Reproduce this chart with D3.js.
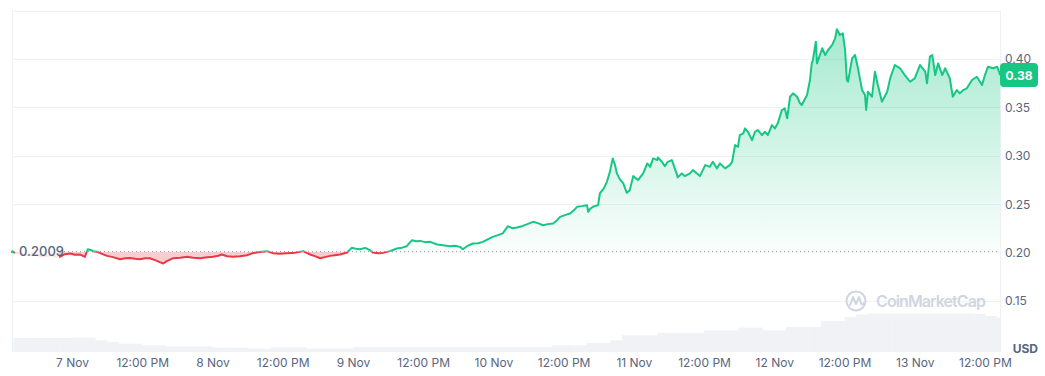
<!DOCTYPE html>
<html lang="en">
<head>
<meta charset="utf-8">
<title>Price chart</title>
<script src="https://cdn.jsdelivr.net/npm/d3@7"></script>
<style>
  body { margin: 0; background: #fff; }
  svg text { font-family: Inter, "Noto Sans", sans-serif; }
  .axis text { font-size: 12px; fill: #58667e; }
  .axis path, .axis line { display: none; }
</style>
</head>
<body>
<script>
// size of the page and the plot box
var w = 1045, h = 376;
var plotLeft = 12, plotRight = 1000, plotTop = 10.6, plotBottom = 352;

// price, hours counted from 7 Nov 00:00
var hours = [-10.3,-9.2,-7.9,-6.5,-5.1,-3.8,-2.1,-1.2,-0.3,0.5,
  1.4,2.2,2.7,3.3,3.6,4.3,4.8,6.0,7.0,8.2,
  9.1,9.9,10.8,11.6,12.5,13.3,14.2,15.0,15.6,16.2,
  17.3,18.5,19.7,20.7,21.9,23.1,24.1,25.0,25.6,26.5,
  27.5,28.7,29.9,30.9,32.1,33.3,34.3,35.5,36.7,38.1,
  39.5,40.2,40.7,41.5,42.4,43.2,44.1,44.9,45.8,47.0,
  47.8,48.5,49.2,50.1,50.9,51.4,52.3,53.1,54.3,55.5,
  56.4,57.2,58.1,58.8,59.5,60.3,61.2,62.4,63.4,64.6,
  65.4,66.3,66.8,67.5,68.5,69.4,70.2,71.1,71.9,72.8,
  73.6,74.5,75.2,76.0,76.9,77.7,78.8,79.6,80.5,81.3,
  82.2,82.9,83.4,84.2,85.1,85.8,86.3,87.1,88.0,88.2,
  88.5,89.0,89.9,90.2,90.9,91.4,91.9,92.4,92.8,93.1,
  93.6,94.2,94.8,95.3,95.9,96.7,97.6,98.3,98.8,99.3,
  100.0,100.1,100.8,101.3,101.8,102.5,102.7,103.4,103.5,104.2,
  104.7,105.6,106.1,106.8,107.3,108.2,109.0,109.5,110.2,110.7,
  111.6,112.4,112.8,113.3,113.8,114.1,114.7,115.0,115.5,116.2,
  116.7,117.2,117.9,118.4,118.9,119.6,120.1,120.6,121.3,121.8,
  122.2,122.7,123.2,123.9,124.4,124.7,125.6,126.1,126.4,126.6,
  127.1,127.3,128.2,128.7,129.2,129.9,130.4,130.7,131.2,131.7,
  132.1,132.4,132.6,133.3,133.8,134.3,135.0,135.5,135.7,136.0,
  136.7,137.2,137.7,138.4,139.3,139.8,140.6,141.5,142.3,143.2,
  144.0,144.9,145.8,146.1,146.6,147.0,147.5,148.0,148.7,149.2,
  150.0,150.5,151.2,151.7,152.3,152.9,153.8,154.6,155.5,156.0,
  156.5,157.4,158.1,158.6];

var prices = [0.2009,0.1994,0.1973,0.1984,0.1963,0.1973,0.1956,0.1984,0.1991,0.1978,
  0.1980,0.1956,0.2035,0.2025,0.2015,0.2009,0.1994,0.1966,0.1953,0.1932,
  0.1942,0.1945,0.1937,0.1932,0.1942,0.1942,0.1922,0.1901,0.1887,0.1911,
  0.1942,0.1947,0.1956,0.1947,0.1942,0.1953,0.1956,0.1968,0.1980,0.1963,
  0.1956,0.1963,0.1973,0.1994,0.2007,0.2015,0.1994,0.1989,0.1994,0.1999,
  0.2015,0.1994,0.1980,0.1963,0.1942,0.1953,0.1966,0.1973,0.1980,0.2001,
  0.2049,0.2040,0.2035,0.2049,0.2025,0.2001,0.1994,0.1997,0.2015,0.2042,
  0.2051,0.2066,0.2128,0.2118,0.2121,0.2108,0.2111,0.2084,0.2077,0.2066,
  0.2071,0.2059,0.2035,0.2066,0.2094,0.2097,0.2111,0.2139,0.2162,0.2180,
  0.2198,0.2273,0.2252,0.2260,0.2273,0.2291,0.2318,0.2304,0.2283,0.2294,
  0.2301,0.2335,0.2369,0.2387,0.2404,0.2439,0.2473,0.2480,0.2490,0.2421,
  0.2449,0.2473,0.2490,0.2611,0.2666,0.2731,0.2831,0.2973,0.2904,0.2818,
  0.2759,0.2715,0.2617,0.2645,0.2790,0.2749,0.2818,0.2921,0.2886,0.2973,
  0.2956,0.2983,0.2938,0.2893,0.2938,0.2956,0.2921,0.2800,0.2777,0.2818,
  0.2790,0.2818,0.2852,0.2818,0.2790,0.2904,0.2886,0.2938,0.2870,0.2921,
  0.2870,0.2904,0.2938,0.3111,0.3093,0.3214,0.3232,0.3283,0.3248,0.3162,
  0.3248,0.3266,0.3214,0.3248,0.3214,0.3317,0.3283,0.3335,0.3473,0.3490,
  0.3387,0.3610,0.3645,0.3610,0.3542,0.3524,0.3628,0.3783,0.3955,0.3990,
  0.4179,0.3955,0.4111,0.4041,0.4093,0.4145,0.4214,0.4307,0.4248,0.4266,
  0.4093,0.3783,0.3765,0.4007,0.4041,0.3904,0.3679,0.3628,0.3473,0.3662,
  0.3610,0.3869,0.3731,0.3558,0.3662,0.3800,0.3938,0.3904,0.3834,0.3765,
  0.3800,0.3938,0.3869,0.3749,0.4024,0.4041,0.3834,0.3955,0.3834,0.3904,
  0.3800,0.3610,0.3679,0.3645,0.3679,0.3697,0.3783,0.3817,0.3731,0.3834,
  0.3920,0.3904,0.3920,0.3834];

// volume, one bar every 2 hours starting 6 Nov 14:00
var volStartHour = -10, volStep = 2;
var volume = [14,14,14,14,14, 14.4,14.4,11.7,10,8.4,
  8.4,6.7,6.7,5.7,5.7, 5.7,5.7,4.4,4.4,4.4,
  3.4,3.4,4.7,4.7,4.7, 3.4,3.4,3.4,3.4,5,
  5,5,5,5,5, 5,5,5,5,5, 5,5,5,5,5, 5,
  6.7,6.7,6.7,9,9, 11.7,16.7,16.7,16.7,19,
  19,19,19,21.7,21.7, 21.7,24.4,24.4,21.7,21.7,
  25,25,25,31,31, 35,37.7,38.4,38.4,38.4,
  38.4,38.4,38.4,38.4,38.4, 38.4,38,36,34.4];

var priceTicks = [0.15, 0.20, 0.25, 0.30, 0.35, 0.40];
var gridPrices = [0.15, 0.25, 0.30, 0.35, 0.40, 0.45];
var openPrice = 0.2009;
var lastLabel = "0.38";

var green = "#16c784", red = "#ea3943", grey = "#58667e";

var base = new Date(2023, 10, 7, 0, 0);
function atHour(hr) { return new Date(base.getTime() + hr * 3600e3); }

var data = hours.map(function(hr, i) { return {t: atHour(hr), p: prices[i]}; });

var x = d3.scaleTime()
  .domain([atHour(-10.252), atHour(158.57)])
  .range([plotLeft, plotRight]);
var y = d3.scaleLinear()
  .domain([0.0973, 0.45])
  .range([plotBottom, plotTop]);
var vol = d3.scaleLinear().domain([0, 40]).range([0, 40]);

var svg = d3.select("body").append("svg")
  .attr("width", w).attr("height", h);

var defs = svg.append("defs");
var baseY = y(openPrice);

defs.append("clipPath").attr("id", "plot")
  .append("rect").attr("x", plotLeft).attr("y", 0)
  .attr("width", plotRight - plotLeft).attr("height", plotBottom);
defs.append("clipPath").attr("id", "above")
  .append("rect").attr("x", 0).attr("y", 0)
  .attr("width", w).attr("height", baseY);
defs.append("clipPath").attr("id", "below")
  .append("rect").attr("x", 0).attr("y", baseY)
  .attr("width", w).attr("height", h - baseY);

var grad = defs.append("linearGradient").attr("id", "upFill")
  .attr("gradientUnits", "userSpaceOnUse")
  .attr("x1", 0).attr("x2", 0).attr("y1", y(0.43)).attr("y2", baseY);
grad.append("stop").attr("offset", 0).attr("stop-color", green).attr("stop-opacity", 0.38);
grad.append("stop").attr("offset", 1).attr("stop-color", green).attr("stop-opacity", 0.02);

// grid and frame
svg.append("g").selectAll("line").data(gridPrices).enter().append("line")
  .attr("x1", plotLeft).attr("x2", plotRight)
  .attr("y1", function(d) { return Math.round(y(d)) + 0.5; })
  .attr("y2", function(d) { return Math.round(y(d)) + 0.5; })
  .attr("stroke", "#eff2f5").attr("stroke-width", 1);
svg.append("g").selectAll("line").data([plotLeft, plotRight]).enter().append("line")
  .attr("x1", function(d) { return d + 0.5; }).attr("x2", function(d) { return d + 0.5; })
  .attr("y1", plotTop).attr("y2", plotBottom)
  .attr("stroke", "#eff2f5").attr("stroke-width", 1);

// volume bars
var vw = x(atHour(volStep)) - x(atHour(0));
svg.append("g").attr("clip-path", "url(#plot)")
  .selectAll("rect").data(volume).enter().append("rect")
  .attr("x", function(d, i) { return x(atHour(volStartHour + i * volStep)); })
  .attr("width", vw + 0.3)
  .attr("y", function(d) { return plotBottom - vol(d); })
  .attr("height", function(d) { return vol(d); })
  .attr("fill", "#f0f2f5");

// watermark
var wm = svg.append("g").attr("fill", "none").attr("stroke", "#cfd6e2");
wm.append("circle").attr("cx", 856).attr("cy", 301).attr("r", 9.5).attr("stroke-width", 2);
wm.append("path").attr("stroke-width", 2).attr("stroke-linejoin", "round").attr("stroke-linecap", "round")
  .attr("d", "M850,305 L853,297 L856,304 L859,297 L861,303 Q862,306 864,303");
svg.append("text").attr("x", 876).attr("y", 307)
  .attr("font-size", 16).attr("font-weight", 600).attr("fill", "#cfd6e2")
  .attr("textLength", 110).text("CoinMarketCap");

// price areas
var area = d3.area()
  .x(function(d) { return x(d.t); })
  .y0(baseY)
  .y1(function(d) { return y(d.p); });
var line = d3.line()
  .x(function(d) { return x(d.t); })
  .y(function(d) { return y(d.p); });

svg.append("path").datum(data).attr("clip-path", "url(#above)")
  .attr("d", area).attr("fill", "url(#upFill)");
svg.append("path").datum(data).attr("clip-path", "url(#below)")
  .attr("d", area).attr("fill", red).attr("fill-opacity", 0.25);

// open price dotted line
svg.append("line")
  .attr("x1", plotLeft).attr("x2", plotRight)
  .attr("y1", baseY).attr("y2", baseY)
  .attr("stroke", "#8c94a5").attr("stroke-width", 1)
  .attr("stroke-dasharray", "1,3");

svg.append("path").datum(data).attr("clip-path", "url(#above)")
  .attr("d", line).attr("fill", "none").attr("stroke", green)
  .attr("stroke-width", 2).attr("stroke-linejoin", "round");
svg.append("path").datum(data).attr("clip-path", "url(#below)")
  .attr("d", line).attr("fill", "none").attr("stroke", red)
  .attr("stroke-width", 2).attr("stroke-linejoin", "round");

// open price label on the left
svg.append("rect").attr("x", 15).attr("y", baseY - 9).attr("width", 44).attr("height", 18)
  .attr("fill", "#fff").attr("fill-opacity", 0.85);
svg.append("circle").attr("cx", plotLeft + 0.5).attr("cy", baseY).attr("r", 1.5).attr("fill", green);
svg.append("text").attr("x", 19).attr("y", baseY + 4.5)
  .attr("font-size", 13).attr("font-weight", 500).attr("fill", grey).text(d3.format(".4f")(openPrice));

// y axis
var yAxis = d3.axisRight(y).tickValues(priceTicks).tickFormat(d3.format(".2f")).tickSize(0).tickPadding(5);
svg.append("g").attr("class", "axis")
  .attr("transform", "translate(" + plotRight + ",0)")
  .call(yAxis);

// last price badge
var last = data[data.length - 1];
svg.append("rect").attr("x", plotRight).attr("y", y(last.p) - 12)
  .attr("width", 38).attr("height", 24).attr("rx", 4).attr("fill", green);
svg.append("text").attr("x", plotRight + 19).attr("y", y(last.p) + 4.5)
  .attr("text-anchor", "middle").attr("font-size", 12).attr("font-weight", 700)
  .attr("fill", "#fff").text(lastLabel);

svg.append("text").attr("x", 1038).attr("y", 353).attr("text-anchor", "end")
  .attr("font-size", 12).attr("font-weight", 700).attr("fill", grey).text("USD");

// x axis
var tickTimes = d3.range(0, 157, 12).map(atHour);
var dayFmt = d3.timeFormat("%-d %b"), hourFmt = d3.timeFormat("%-I:%M %p");
var xAxis = d3.axisBottom(x).tickValues(tickTimes)
  .tickFormat(function(d) { return d.getHours() === 0 ? dayFmt(d) : hourFmt(d); })
  .tickSize(0).tickPadding(0);
svg.append("g").attr("class", "axis")
  .attr("transform", "translate(0,358)")
  .call(xAxis);
</script>
</body>
</html>
